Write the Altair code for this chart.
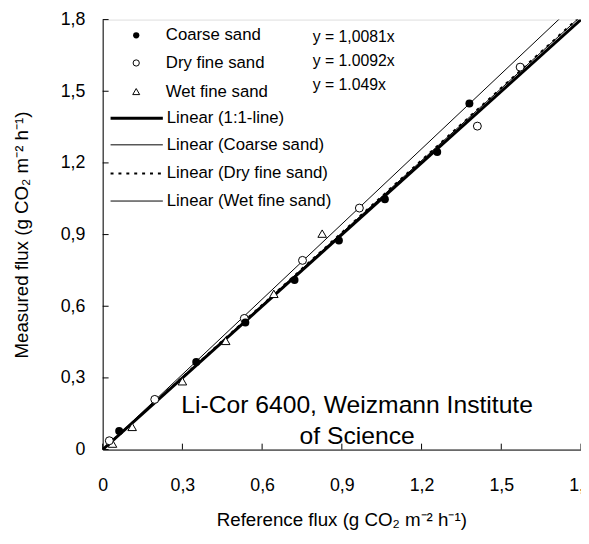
import altair as alt
import pandas as pd

# ---- data ----
coarse_x = [0.062, 0.352, 0.537, 0.722, 0.889, 1.062, 1.259, 1.38]
coarse_y = [0.078, 0.367, 0.532, 0.71, 0.875, 1.048, 1.246, 1.449]
dry_x = [0.025, 0.196, 0.533, 0.752, 0.966, 1.41, 1.571]
dry_y = [0.037, 0.21, 0.549, 0.792, 1.011, 1.354, 1.601]
wet_x = [0.037, 0.111, 0.3, 0.463, 0.644, 0.826]
wet_y = [0.025, 0.095, 0.286, 0.455, 0.652, 0.904]

line_names = ["Linear (1:1-line)", "Linear (Coarse sand)", "Linear (Dry fine sand)", "Linear (Wet fine sand)"]
line_slopes = [1.0, 1.0081, 1.0092, 1.049]
line_x = [0.0, 1.8]

tick_values = [0, 0.3, 0.6, 0.9, 1.2, 1.5, 1.8]
equations = ["y = 1,0081x", "y = 1.0092x", "y = 1.049x"]
point_names = ["Coarse sand", "Dry fine sand", "Wet fine sand"]
note_lines = ["Li-Cor 6400, Weizmann Institute", "of Science"]

FONT = "Liberation Sans"
W, H = 485, 436

label_expr = "datum.value == 0 ? '0' : replace(format(datum.value, '.1f'), '.', ',')"
xs = alt.Scale(domain=[0, 1.8], nice=False, zero=True)
ys = alt.Scale(domain=[0, 1.8], nice=False, zero=True)
xaxis = alt.Axis(values=tick_values, labelExpr=label_expr, tickSize=0, labelPadding=27,
                 grid=False, domainColor="black", labelFontSize=18, labelColor="black",
                 labelFont=FONT, labelFlush=False, labelOverlap=False,
                 title="Reference flux (g CO₂ m⁻² h⁻¹)", titleFont=FONT, titleFontSize=19,
                 titleFontWeight="normal", titleColor="black", titleX=242, titleY=71,
                 titleBaseline="middle", titleAlign="center")
yaxis = alt.Axis(values=tick_values, labelExpr=label_expr, tickSize=0, labelPadding=18,
                 grid=False, domainColor="black", labelFontSize=18, labelColor="black",
                 labelFont=FONT, labelFlush=False, labelOverlap=False,
                 title="Measured flux (g CO₂ m⁻² h⁻¹)", titleFont=FONT, titleFontSize=19,
                 titleFontWeight="normal", titleColor="black", titleX=-82, titleY=H / 2,
                 titleBaseline="middle", titleAlign="center", titleAngle=-90)


def X(f):
    return alt.X(f, type="quantitative", scale=xs, axis=xaxis)


def Y(f):
    return alt.Y(f, type="quantitative", scale=ys, axis=yaxis)


# line data
rows = []
for n, s in zip(line_names, line_slopes):
    for xv in line_x:
        rows.append({"series": n, "x": xv, "y": s * xv})
lines_df = pd.DataFrame(rows)

coarse_df = pd.DataFrame({"x": coarse_x, "y": coarse_y})
dry_df = pd.DataFrame({"x": dry_x, "y": dry_y})
wet_df = pd.DataFrame({"x": wet_x, "y": wet_y})
ticks_df = pd.DataFrame({"v": tick_values})

line_styles = {
    "Linear (1:1-line)": dict(strokeWidth=3),
    "Linear (Coarse sand)": dict(strokeWidth=1),
    "Linear (Dry fine sand)": dict(strokeWidth=2, strokeDash=[3, 5]),
    "Linear (Wet fine sand)": dict(strokeWidth=1),
}

layers = []
for n in line_names:
    layers.append(
        alt.Chart(lines_df).transform_filter(alt.datum.series == n)
        .mark_line(color="black", clip=True, **line_styles[n])
        .encode(x=X("x"), y=Y("y"))
    )

# inward ticks
layers.append(alt.Chart(ticks_df).mark_rule(color="black", strokeWidth=1)
              .encode(x=X("v"), y=alt.value(H), y2=alt.value(H - 6)))
layers.append(alt.Chart(ticks_df).mark_rule(color="black", strokeWidth=1)
              .encode(y=Y("v"), x=alt.value(0), x2=alt.value(6)))

coarse_mark = dict(shape="circle", filled=True, color="black", opacity=1)
dry_mark = dict(shape="circle", filled=True, fill="white", stroke="black", strokeWidth=1, opacity=1)
wet_mark = dict(shape="triangle-up", filled=True, fill="white", stroke="black", strokeWidth=1, opacity=1)

layers.append(alt.Chart(wet_df).mark_point(size=75, **wet_mark).encode(x=X("x"), y=Y("y")))
layers.append(alt.Chart(dry_df).mark_point(size=65, **dry_mark).encode(x=X("x"), y=Y("y")))
layers.append(alt.Chart(coarse_df).mark_point(size=65, **coarse_mark).encode(x=X("x"), y=Y("y")))

# legend (inside plot, top-left)
one = alt.Data(values=[{}])
sym_y = [16, 44, 73]
for name, mk, yy, sz in zip(point_names, [coarse_mark, dry_mark, wet_mark], sym_y, [40, 40, 50]):
    layers.append(alt.Chart(one).mark_point(size=sz, **mk)
                  .encode(x=alt.value(34), y=alt.value(yy)))
    layers.append(alt.Chart(one).mark_text(align="left", baseline="middle", font=FONT, fontSize=17, color="black")
                  .encode(x=alt.value(64), y=alt.value(yy), text=alt.value(name)))
line_y = [100, 127, 156, 184]
for name, yy in zip(line_names, line_y):
    st = dict(line_styles[name])
    layers.append(alt.Chart(one).mark_rule(color="black", **st)
                  .encode(x=alt.value(8), x2=alt.value(61), y=alt.value(yy)))
    layers.append(alt.Chart(one).mark_text(align="left", baseline="middle", font=FONT, fontSize=17, color="black")
                  .encode(x=alt.value(65), y=alt.value(yy), text=alt.value(name)))

# equations
for eq, yy in zip(equations, [18, 42, 66]):
    layers.append(alt.Chart(one).mark_text(align="left", baseline="middle", font=FONT, fontSize=16, color="black")
                  .encode(x=alt.value(213), y=alt.value(yy), text=alt.value(eq)))

# note
for t, yy in zip(note_lines, [391, 422]):
    layers.append(alt.Chart(one).mark_text(align="center", baseline="middle", font=FONT, fontSize=25, color="black")
                  .encode(x=alt.value(258), y=alt.value(yy), text=alt.value(t)))

chart = alt.layer(*layers).properties(
    width=W, height=H,
    autosize=alt.AutoSizeParams(type="none"),
    padding={"left": 96, "top": 8, "right": 0, "bottom": 92},
    background="white",
).configure_view(stroke="#888888", strokeWidth=1).configure(font=FONT)

chart.save("out.html", embed_options={"renderer": "svg", "actions": False})
